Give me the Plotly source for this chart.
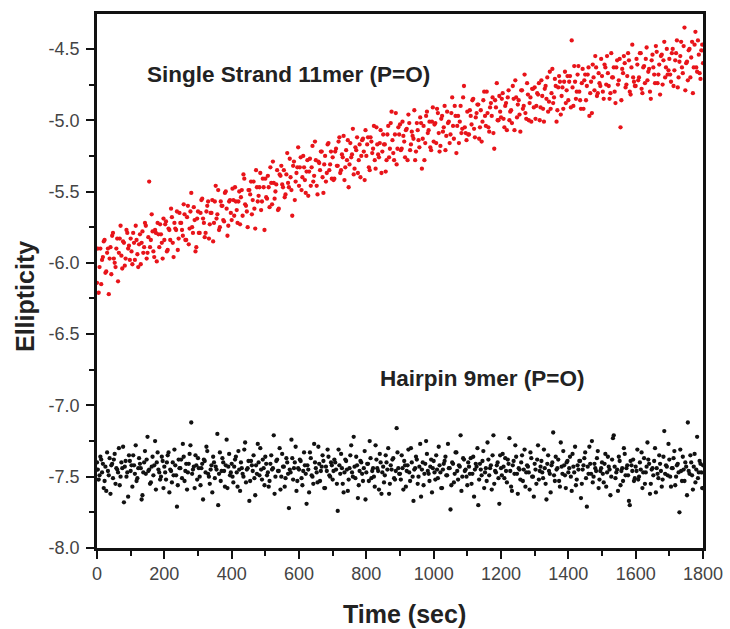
import plotly.graph_objects as go

# Time axis (sec): two interleaved sampling grids
time_a = list(range(0, 1801, 5))                  # 0, 5, ..., 1800
time_b = [t + 2.5 for t in range(0, 1800, 5)]     # 2.5, 7.5, ..., 1797.5

# Single Strand 11mer (P=O) ellipticity (grid a)
single_a = [
    -6.14, -6.21, -5.90, -5.98, -5.85, -6.07, -5.93, -6.22, -5.89, -5.81, -5.97, -6.03, -5.83, -5.93, -5.74, -6.04, -5.86, -5.97, -5.79, -5.88,
    -5.83, -6.01, -5.86, -5.74, -5.94, -5.87, -6.01, -5.78, -5.89, -5.74, -5.93, -5.43, -5.84, -5.78, -5.96, -5.79, -5.72, -5.89, -5.80, -5.97,
    -5.84, -5.71, -5.91, -5.77, -5.62, -5.86, -5.72, -5.77, -5.91, -5.65, -5.72, -5.81, -5.66, -5.84, -5.60, -5.76, -5.51, -5.79, -5.70, -5.89,
    -5.64, -5.79, -5.56, -5.69, -5.82, -5.64, -5.57, -5.73, -5.65, -5.85, -5.57, -5.69, -5.49, -5.75, -5.60, -5.70, -5.51, -5.62, -5.74, -5.56,
    -5.70, -5.56, -5.47, -5.63, -5.57, -5.73, -5.49, -5.38, -5.59, -5.64, -5.49, -5.52, -5.66, -5.43, -5.76, -5.47, -5.53, -5.37, -5.57, -5.47,
    -5.41, -5.55, -5.47, -5.33, -5.59, -5.44, -5.50, -5.35, -5.62, -5.39, -5.45, -5.35, -5.52, -5.23, -5.47, -5.40, -5.67, -5.29, -5.43, -5.33,
    -5.46, -5.26, -5.40, -5.33, -5.51, -5.28, -5.36, -5.46, -5.18, -5.39, -5.28, -5.52, -5.30, -5.22, -5.40, -5.31, -5.43, -5.17, -5.35, -5.22,
    -5.26, -5.41, -5.20, -5.32, -5.12, -5.35, -5.26, -5.42, -5.21, -5.14, -5.31, -5.26, -5.06, -5.34, -5.21, -5.37, -5.17, -5.25, -5.13, -5.42,
    -5.25, -5.12, -5.35, -5.15, -5.20, -5.28, -5.05, -5.24, -5.16, -5.37, -5.10, -5.17, -5.28, -5.04, -5.20, -4.94, -5.23, -5.10, -5.31, -5.05,
    -5.03, -5.20, -5.11, -5.26, -5.06, -4.96, -5.21, -5.08, -5.13, -5.28, -5.02, -5.14, -4.98, -5.34, -5.04, -5.16, -4.94, -5.07, -5.19, -5.01,
    -5.15, -5.02, -4.92, -5.09, -5.18, -4.97, -5.05, -5.21, -4.94, -5.01, -5.10, -4.84, -5.13, -4.97, -5.04, -5.16, -4.90, -5.06, -4.76, -5.09,
    -4.94, -5.10, -4.97, -4.86, -5.06, -4.98, -4.89, -5.13, -4.93, -5.01, -4.80, -5.04, -4.95, -5.08, -4.88, -4.84, -5.20, -4.91, -5.00, -4.83,
    -4.98, -4.81, -5.05, -4.88, -4.84, -5.00, -4.93, -4.76, -5.07, -4.84, -4.89, -4.96, -4.79, -4.92, -4.68, -4.99, -4.82, -4.88, -5.01, -4.78,
    -4.77, -4.90, -4.82, -5.00, -4.72, -4.92, -4.78, -4.85, -4.94, -4.66, -4.81, -4.88, -4.71, -5.01, -4.77, -4.73, -4.83, -4.92, -4.66, -4.79,
    -4.86, -4.69, -4.44, -4.90, -4.73, -4.80, -4.62, -4.86, -4.74, -4.92, -4.68, -4.76, -4.63, -4.81, -4.95, -4.70, -4.55, -4.83, -4.67, -4.76,
    -4.69, -4.85, -4.63, -4.55, -4.76, -4.81, -4.70, -4.63, -4.88, -4.58, -4.72, -5.05, -4.64, -4.55, -4.77, -4.69, -4.58, -4.82, -4.47, -4.73,
    -4.76, -4.61, -4.70, -4.53, -4.81, -4.62, -4.57, -4.72, -4.64, -4.85, -4.54, -4.68, -4.48, -4.74, -4.61, -4.55, -4.75, -4.45, -4.63, -4.68,
    -4.57, -4.73, -4.50, -4.65, -4.53, -4.77, -4.59, -4.45, -4.67, -4.35, -4.60, -4.72, -4.50, -4.56, -4.81, -4.47, -4.63, -4.44, -4.67, -4.51, -4.60,
]

# Single Strand 11mer (P=O) ellipticity (grid b)
single_b = [
    -5.90, -6.03, -6.15, -5.96, -5.84, -6.06, -5.90, -5.97, -6.08, -5.79, -6.00, -5.90, -6.13, -5.83, -5.95, -5.85, -6.02, -5.77, -5.90, -5.98,
    -5.92, -5.79, -5.98, -5.84, -6.03, -5.80, -5.86, -5.93, -5.72, -5.97, -5.82, -5.89, -5.66, -5.92, -5.77, -5.99, -5.80, -5.73, -5.86, -5.69,
    -5.73, -5.92, -5.76, -5.84, -5.68, -5.96, -5.76, -5.64, -5.83, -5.72, -5.77, -5.59, -5.84, -5.68, -5.87, -5.64, -5.75, -5.61, -5.92, -5.69,
    -5.79, -5.65, -5.55, -5.72, -5.79, -5.60, -5.83, -5.65, -5.56, -5.72, -5.46, -5.66, -5.77, -5.57, -5.60, -5.71, -5.50, -5.81, -5.57, -5.65,
    -5.48, -5.67, -5.57, -5.72, -5.50, -5.54, -5.67, -5.41, -5.60, -5.75, -5.49, -5.43, -5.56, -5.62, -5.35, -5.57, -5.47, -5.63, -5.41, -5.77,
    -5.54, -5.39, -5.61, -5.44, -5.29, -5.55, -5.45, -5.63, -5.38, -5.32, -5.47, -5.54, -5.38, -5.44, -5.27, -5.49, -5.32, -5.56, -5.37, -5.19,
    -5.33, -5.49, -5.25, -5.42, -5.36, -5.53, -5.27, -5.33, -5.43, -5.15, -5.46, -5.29, -5.35, -5.22, -5.51, -5.25, -5.37, -5.16, -5.31, -5.41,
    -5.42, -5.22, -5.32, -5.15, -5.37, -5.24, -5.11, -5.33, -5.28, -5.47, -5.16, -5.24, -5.38, -5.19, -5.12, -5.28, -5.40, -5.14, -5.22, -5.07,
    -5.17, -5.33, -5.12, -5.23, -5.04, -5.34, -5.17, -5.26, -5.07, -5.22, -5.17, -5.36, -5.10, -5.26, -5.02, -5.14, -5.28, -4.95, -5.20, -5.10,
    -5.21, -5.01, -5.15, -5.07, -5.28, -5.02, -5.17, -5.11, -4.93, -5.22, -5.07, -5.19, -5.02, -5.13, -5.28, -4.97, -5.09, -5.01, -5.21, -4.91,
    -5.03, -5.16, -4.95, -5.22, -4.99, -5.08, -4.90, -5.11, -5.02, -5.16, -4.95, -5.04, -4.90, -5.23, -4.97, -5.01, -5.09, -4.84, -5.05, -5.14,
    -5.10, -4.93, -5.03, -4.85, -5.12, -4.95, -4.89, -5.05, -5.15, -4.86, -4.97, -4.80, -5.05, -4.91, -4.97, -5.09, -4.86, -4.74, -5.00, -4.94,
    -4.85, -4.99, -4.90, -5.07, -4.79, -4.94, -5.02, -4.85, -4.72, -4.98, -4.86, -5.08, -4.79, -4.90, -4.95, -4.74, -5.00, -4.84, -4.78, -4.91,
    -4.99, -4.81, -4.74, -4.91, -4.83, -5.01, -4.76, -4.70, -4.87, -4.92, -4.64, -4.84, -4.76, -4.93, -4.69, -4.96, -4.77, -4.73, -4.88, -4.69,
    -4.73, -4.91, -4.77, -4.62, -4.85, -4.68, -4.80, -4.92, -4.64, -4.72, -4.86, -4.68, -4.97, -4.73, -4.61, -4.79, -4.63, -4.81, -4.74, -4.57,
    -4.80, -4.61, -4.75, -4.67, -4.85, -4.53, -4.70, -4.80, -4.63, -4.75, -4.57, -4.86, -4.67, -4.60, -4.75, -4.53, -4.80, -4.63, -4.70, -4.76,
    -4.57, -4.72, -4.53, -4.78, -4.63, -4.74, -4.49, -4.66, -4.80, -4.58, -4.63, -4.74, -4.52, -4.68, -4.82, -4.54, -4.58, -4.70, -4.50, -4.65,
    -4.68, -4.53, -4.76, -4.58, -4.44, -4.70, -4.55, -4.63, -4.48, -4.79, -4.59, -4.51, -4.70, -4.45, -4.63, -4.38, -4.66, -4.54, -4.71, -4.47,
]

# Hairpin 9mer (P=O) ellipticity (grid a)
hairpin_a = [
    -7.40, -7.52, -7.36, -7.47, -7.58, -7.43, -7.33, -7.49, -7.62, -7.41, -7.38, -7.55, -7.45, -7.30, -7.50, -7.44, -7.68, -7.39, -7.47, -7.35,
    -7.46, -7.57, -7.42, -7.28, -7.51, -7.37, -7.44, -7.63, -7.40, -7.48, -7.22, -7.45, -7.54, -7.36, -7.42, -7.59, -7.33, -7.47, -7.50, -7.39,
    -7.43, -7.52, -7.35, -7.61, -7.46, -7.40, -7.31, -7.49, -7.56, -7.44, -7.38, -7.27, -7.53, -7.41, -7.47, -7.34, -7.12, -7.45, -7.58, -7.42,
    -7.37, -7.50, -7.44, -7.66, -7.39, -7.29, -7.48, -7.55, -7.42, -7.36, -7.51, -7.45, -7.70, -7.33, -7.46, -7.40, -7.57, -7.24, -7.43, -7.49,
    -7.41, -7.54, -7.38, -7.47, -7.32, -7.60, -7.44, -7.50, -7.26, -7.45, -7.39, -7.53, -7.42, -7.35, -7.63, -7.48, -7.40, -7.30, -7.52, -7.44,
    -7.36, -7.49, -7.57, -7.41, -7.45, -7.21, -7.50, -7.38, -7.46, -7.59, -7.34, -7.43, -7.51, -7.40, -7.72, -7.47, -7.37, -7.44, -7.29, -7.53,
    -7.45, -7.39, -7.56, -7.33, -7.48, -7.42, -7.61, -7.37, -7.50, -7.27, -7.44, -7.54, -7.41, -7.46, -7.35, -7.58, -7.43, -7.31, -7.49, -7.40,
    -7.52, -7.38, -7.45, -7.74, -7.42, -7.34, -7.55, -7.47, -7.39, -7.60, -7.44, -7.28, -7.50, -7.43, -7.36, -7.65, -7.46, -7.40, -7.53, -7.32,
    -7.47, -7.41, -7.25, -7.51, -7.44, -7.57, -7.38, -7.46, -7.34, -7.62, -7.43, -7.49, -7.40, -7.30, -7.55, -7.45, -7.37, -7.52, -7.16, -7.44,
    -7.48, -7.35, -7.59, -7.42, -7.46, -7.31, -7.53, -7.40, -7.67, -7.44, -7.38, -7.50, -7.27, -7.45, -7.56, -7.41, -7.34, -7.48, -7.43, -7.61,
    -7.39, -7.52, -7.45, -7.29, -7.47, -7.58, -7.41, -7.36, -7.49, -7.44, -7.73, -7.40, -7.54, -7.33, -7.46, -7.42, -7.21, -7.50, -7.38, -7.45,
    -7.56, -7.43, -7.37, -7.48, -7.64, -7.41, -7.30, -7.52, -7.45, -7.39, -7.58, -7.44, -7.26, -7.49, -7.42, -7.35, -7.55, -7.47, -7.40, -7.69,
    -7.44, -7.34, -7.51, -7.46, -7.38, -7.23, -7.57, -7.42, -7.48, -7.36, -7.62, -7.45, -7.40, -7.53, -7.31, -7.47, -7.43, -7.59, -7.37, -7.50,
    -7.41, -7.55, -7.28, -7.46, -7.39, -7.51, -7.44, -7.66, -7.35, -7.48, -7.42, -7.19, -7.53, -7.45, -7.38, -7.57, -7.43, -7.32, -7.49, -7.40,
    -7.47, -7.36, -7.60, -7.43, -7.29, -7.52, -7.45, -7.39, -7.55, -7.42, -7.33, -7.71, -7.48, -7.41, -7.25, -7.50, -7.44, -7.37, -7.58, -7.46,
    -7.40, -7.54, -7.34, -7.47, -7.43, -7.63, -7.38, -7.21, -7.51, -7.45, -7.36, -7.56, -7.44, -7.30, -7.49, -7.42, -7.67, -7.39, -7.46, -7.53,
    -7.43, -7.31, -7.50, -7.45, -7.58, -7.37, -7.47, -7.26, -7.41, -7.55, -7.44, -7.39, -7.61, -7.48, -7.35, -7.46, -7.52, -7.18, -7.42, -7.49,
    -7.38, -7.57, -7.44, -7.32, -7.50, -7.41, -7.75, -7.46, -7.36, -7.53, -7.43, -7.12, -7.48, -7.40, -7.59, -7.34, -7.45, -7.51, -7.39, -7.47, -7.42,
]

# Hairpin 9mer (P=O) ellipticity (grid b)
hairpin_b = [
    -7.45, -7.49, -7.38, -7.41, -7.53, -7.60, -7.46, -7.37, -7.42, -7.51, -7.34, -7.44, -7.47, -7.56, -7.40, -7.29, -7.43, -7.50, -7.64, -7.39,
    -7.42, -7.35, -7.48, -7.53, -7.44, -7.41, -7.66, -7.47, -7.32, -7.38, -7.46, -7.55, -7.43, -7.49, -7.25, -7.40, -7.45, -7.52, -7.36, -7.58,
    -7.47, -7.40, -7.33, -7.45, -7.54, -7.49, -7.42, -7.71, -7.38, -7.44, -7.51, -7.36, -7.46, -7.59, -7.41, -7.28, -7.48, -7.43, -7.35, -7.52,
    -7.44, -7.56, -7.41, -7.38, -7.47, -7.32, -7.50, -7.45, -7.61, -7.40, -7.43, -7.20, -7.48, -7.53, -7.37, -7.46, -7.42, -7.58, -7.34, -7.47,
    -7.50, -7.43, -7.36, -7.57, -7.45, -7.40, -7.48, -7.31, -7.54, -7.44, -7.67, -7.39, -7.46, -7.51, -7.42, -7.27, -7.49, -7.45, -7.38, -7.56,
    -7.41, -7.47, -7.53, -7.35, -7.44, -7.62, -7.39, -7.46, -7.30, -7.50, -7.43, -7.57, -7.37, -7.48, -7.45, -7.24, -7.52, -7.40, -7.60, -7.44,
    -7.38, -7.51, -7.46, -7.42, -7.69, -7.45, -7.33, -7.49, -7.55, -7.40, -7.47, -7.29, -7.53, -7.43, -7.39, -7.58, -7.46, -7.36, -7.50, -7.42,
    -7.46, -7.40, -7.55, -7.31, -7.48, -7.44, -7.61, -7.38, -7.45, -7.52, -7.35, -7.47, -7.22, -7.51, -7.42, -7.56, -7.39, -7.48, -7.44, -7.66,
    -7.41, -7.53, -7.37, -7.46, -7.50, -7.28, -7.44, -7.59, -7.40, -7.47, -7.54, -7.35, -7.45, -7.62, -7.42, -7.38, -7.51, -7.46, -7.33, -7.48,
    -7.52, -7.44, -7.39, -7.57, -7.42, -7.47, -7.30, -7.50, -7.45, -7.36, -7.55, -7.43, -7.64, -7.40, -7.48, -7.25, -7.46, -7.53, -7.38, -7.44,
    -7.47, -7.35, -7.51, -7.42, -7.58, -7.45, -7.39, -7.49, -7.27, -7.44, -7.56, -7.41, -7.48, -7.33, -7.52, -7.43, -7.60, -7.37, -7.46, -7.50,
    -7.40, -7.48, -7.55, -7.36, -7.45, -7.43, -7.70, -7.41, -7.49, -7.32, -7.47, -7.53, -7.38, -7.44, -7.59, -7.21, -7.46, -7.42, -7.51, -7.35,
    -7.49, -7.43, -7.37, -7.54, -7.41, -7.46, -7.60, -7.39, -7.28, -7.48, -7.44, -7.52, -7.35, -7.45, -7.57, -7.42, -7.47, -7.33, -7.50, -7.64,
    -7.45, -7.38, -7.52, -7.43, -7.47, -7.31, -7.55, -7.41, -7.46, -7.61, -7.40, -7.49, -7.36, -7.44, -7.53, -7.26, -7.48, -7.42, -7.58, -7.39,
    -7.44, -7.50, -7.34, -7.47, -7.56, -7.42, -7.39, -7.65, -7.45, -7.37, -7.51, -7.43, -7.29, -7.48, -7.54, -7.41, -7.46, -7.32, -7.52, -7.44,
    -7.48, -7.41, -7.57, -7.36, -7.45, -7.50, -7.23, -7.43, -7.47, -7.60, -7.39, -7.46, -7.53, -7.34, -7.44, -7.49, -7.70, -7.42, -7.38, -7.51,
    -7.46, -7.52, -7.40, -7.33, -7.47, -7.55, -7.43, -7.38, -7.62, -7.45, -7.49, -7.30, -7.44, -7.51, -7.41, -7.57, -7.36, -7.48, -7.43, -7.27,
    -7.50, -7.44, -7.37, -7.56, -7.42, -7.47, -7.31, -7.53, -7.45, -7.40, -7.63, -7.46, -7.35, -7.49, -7.43, -7.54, -7.22, -7.47, -7.41, -7.58,
]

x_tick_vals = [0, 200, 400, 600, 800, 1000, 1200, 1400, 1600, 1800]
y_tick_vals = [-8.0, -7.5, -7.0, -6.5, -6.0, -5.5, -5.0, -4.5]
y_tick_text = ["-8.0", "-7.5", "-7.0", "-6.5", "-6.0", "-5.5", "-5.0", "-4.5"]

x_title = "Time (sec)"
y_title = "Ellipticity"
label_single = "Single Strand 11mer (P=O)"
label_hairpin = "Hairpin 9mer (P=O)"

FONT = "Arial, Liberation Sans, sans-serif"

fig = go.Figure()
fig.add_trace(go.Scatter(
    x=time_a + time_b, y=single_a + single_b, mode="markers", name=label_single,
    marker=dict(color="#e8141a", size=4.3, line=dict(width=0)),
))
fig.add_trace(go.Scatter(
    x=time_a + time_b, y=hairpin_a + hairpin_b, mode="markers", name=label_hairpin,
    marker=dict(color="#111111", size=4.3, line=dict(width=0)),
))

axis_common = dict(
    showgrid=False, zeroline=False, showline=True, linecolor="#111", linewidth=2.5,
    mirror=True, ticks="outside", ticklen=8, tickwidth=2, tickcolor="#111",
    tickfont=dict(family=FONT, size=18, color="#444"), automargin=False,
)

fig.update_layout(
    width=730, height=629,
    margin=dict(l=97, r=27, t=14, b=81),
    paper_bgcolor="white", plot_bgcolor="white",
    showlegend=False,
    font=dict(family=FONT),
    xaxis=dict(
        range=[0, 1800], tickvals=x_tick_vals,
        minor=dict(ticks="outside", ticklen=5, tickwidth=2, tickcolor="#111", dtick=100, tick0=0),
        **axis_common,
    ),
    yaxis=dict(
        range=[-8.0, -4.255], tickvals=y_tick_vals, ticktext=y_tick_text,
        ticklabelstandoff=3,
        minor=dict(ticks="outside", ticklen=5, tickwidth=2, tickcolor="#111", dtick=0.25, tick0=-8.0),
        **axis_common,
    ),
    annotations=[
        dict(text="<b>" + label_single + "</b>", x=570, y=-4.68, xref="x", yref="y",
             showarrow=False, font=dict(family=FONT, size=22.5, color="#222")),
        dict(text="<b>" + label_hairpin + "</b>", x=1143, y=-6.81, xref="x", yref="y",
             showarrow=False, font=dict(family=FONT, size=22.5, color="#222")),
        dict(text="<b>" + x_title + "</b>", x=0.508, y=-0.1236, xref="paper", yref="paper",
             xanchor="center", yanchor="middle", showarrow=False,
             font=dict(family=FONT, size=25, color="#222")),
        dict(text="<b>" + y_title + "</b>", x=-0.1188, y=0.470, xref="paper", yref="paper",
             xanchor="center", yanchor="middle", textangle=-90, showarrow=False,
             font=dict(family=FONT, size=25, color="#222")),
    ],
)

fig.write_html("out.html", config={"displayModeBar": False},
               post_script="document.body.style.margin='0';")
